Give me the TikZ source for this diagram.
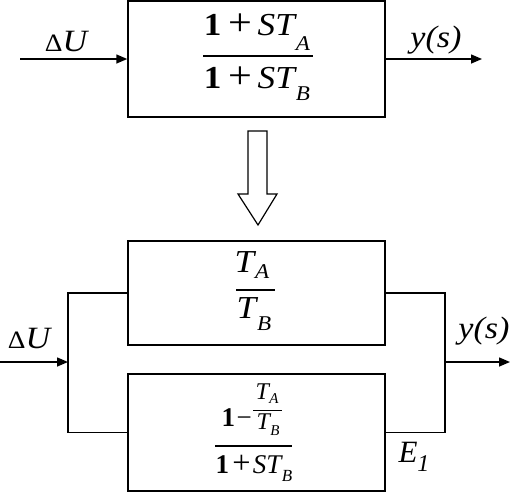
\documentclass[tikz,border=0pt]{standalone}
\usepackage{fontspec}
\setmainfont{Liberation Serif}
\usetikzlibrary{arrows.meta}
\newcommand\xs[1]{\scalebox{1.1}[1]{#1}}
\newcommand\fs[1]{\fontsize{#1}{#1}\selectfont}
\newcommand\lsub[3]{\raisebox{-#1pt}{\fs{#2}\textit{#3}}}
\newcommand\bplus{\raisebox{-0.8pt}{\scalebox{1.2}{+}}}
\begin{document}
\begin{tikzpicture}[x=1pt,y=-1pt,
  blk/.style={draw, line width=1.5pt, inner sep=0pt},
  wire/.style={line width=1.5pt},
  sig/.style={line width=1.5pt,-{Triangle[length=11pt,width=9pt]}},
  lbl/.style={inner sep=0pt, anchor=base},
  fbar/.style={line width=1.3pt}]
\useasboundingbox (0,0) rectangle (512,493);
% boxes
\node[blk, minimum width=257pt, minimum height=116pt] (top) at (256.5,59) {};
\node[blk, minimum width=257pt, minimum height=104pt] (b1) at (256.5,293) {};
\node[blk, minimum width=257pt, minimum height=117pt] (b2) at (256.5,432.5) {};
% top connectors
\coordinate (in1) at (20,59);
\coordinate (out1) at (482,59);
\draw[sig] (in1) -- (top.west);
\draw[sig] (top.east) -- (out1);
% hollow arrow
\draw[line width=1.2pt, line join=miter] (248,131) -- (267,131) -- (267,194) -- (277,194) -- (258,225) -- (238,194) -- (248,194) -- cycle;
% bottom connectors
\coordinate (jl) at (68,362);
\coordinate (jr) at (445,362);
\coordinate (in2) at (0,362);
\coordinate (out2) at (510,362);
\draw[wire] (b1.west) -| (jl) |- (b2.west);
\draw[wire] (b1.east) -| (jr) |- (b2.east);
\draw[sig] (in2) -- (jl);
\draw[sig] (jr) -- (out2);
% labels
\node[lbl] (du1) at (67,51) {\xs{\fs{25}Δ\fs{31}\textit{U}}};
\node[lbl] (ys1) at (436,47) {\xs{\fs{31}\textit{y(s)}}};
\node[lbl] (du2) at (30,348) {\xs{\fs{25}Δ\fs{31}\textit{U}}};
\node[lbl] (ys2) at (484,338) {\xs{\fs{31}\textit{y(s)}}};
\node[lbl] (e1) at (414,462) {\fs{31}\textit{E}\lsub{9}{24}{1}};
% top fraction
\node[lbl] (tn) at (257,35) {\xs{\fs{32}\textbf{1}\hspace{0.2em}\bplus\hspace{0.15em}\textit{ST}\kern-1pt\lsub{15}{21}{A}}};
\node[lbl] (td) at (257,88) {\xs{\fs{32}\textbf{1}\hspace{0.2em}\bplus\hspace{0.15em}\textit{ST}\kern-1pt\lsub{12}{21}{B}}};
\draw[fbar] (203,56) -- (313,56);
% b1 fraction
\node[lbl] (b1n) at (252,272) {\xs{\fs{32}\textit{T}\kern-1pt\lsub{6}{21}{A}}};
\node[lbl] (b1d) at (254,318) {\xs{\fs{32}\textit{T}\kern-1pt\lsub{12}{21}{B}}};
\draw[fbar] (236,290) -- (275,290);
% b2 fraction
\node[lbl, anchor=base east] (b2one) at (252,426) {\fs{27}\textbf{1}\hspace{0.05em}−};
\node[lbl] (b2sn) at (267,399) {\fs{24}\textit{T}\kern-1pt\lsub{4}{15}{A}};
\node[lbl] (b2sd) at (268,429) {\fs{24}\textit{T}\kern-1pt\lsub{6}{15}{B}};
\draw[line width=0.8pt] (253,410) -- (282,410);
\node[lbl] (b2d) at (254,473) {\fs{27}\textbf{1}\hspace{0.12em}\bplus\hspace{0.08em}\textit{ST}\kern-1pt\lsub{8}{17}{B}};
\draw[fbar] (215,446) -- (292,446);
\end{tikzpicture}
\end{document}
